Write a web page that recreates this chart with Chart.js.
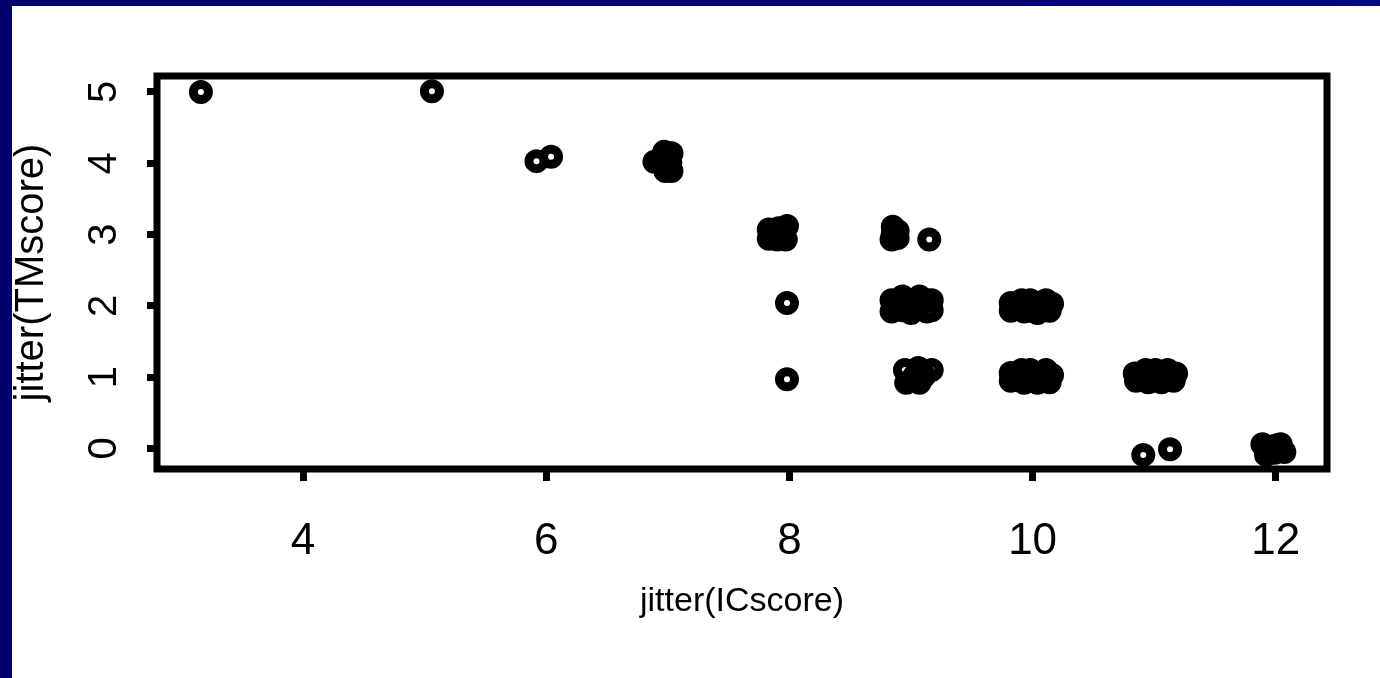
<!DOCTYPE html>
<html>
<head>
<meta charset="utf-8">
<title>jitter(TMscore) vs jitter(ICscore)</title>
<script src="https://cdn.jsdelivr.net/npm/chart.js@4.4.0/dist/chart.umd.min.js"></script>
<style>
    html, body {
        margin: 0;
        padding: 0;
        width: 1380px;
        height: 678px;
        overflow: hidden;
        background: linear-gradient(90deg, #00006a 0%, #000072 60%, #00087e 100%);
    }
    #frame {
        position: absolute;
        left: 12px;
        top: 6px;
        width: 1368px;
        height: 672px;
        background: #ffffff;
    }
</style>
</head>
<body>
<div id="frame">
    <canvas id="scatter"></canvas>
</div>
<script>
// Jittered scores (one entry per plotted circle)
const icScore = [
    3.16, 5.06,
    5.92, 6.04,
    6.89, 6.97, 7.03, 7.02, 6.98, 7.03, 6.95,
    7.98, 7.83, 7.83, 7.90, 7.97, 7.91, 7.90,
    8.85, 8.84, 8.89, 8.89, 8.85, 9.15,
    7.98,
    8.84, 8.84, 8.93, 8.93, 9.03, 9.07, 9.13, 9.17, 9.17, 9.00, 8.89, 9.08, 8.98, 9.13,
    9.82, 9.82, 9.91, 9.93, 10.02, 10.11, 10.16, 10.14, 10.04, 9.98, 9.88, 10.08, 9.98, 10.11,
    7.98,
    8.95, 8.96, 9.03, 9.07, 9.06, 9.17, 9.01, 9.11,
    9.82, 9.82, 9.91, 9.93, 10.02, 10.11, 10.16, 10.14, 10.04, 9.98, 9.88, 10.08, 9.98, 10.11,
    10.84, 10.85, 10.93, 10.95, 11.03, 11.11, 11.18, 11.16, 11.06, 11.01, 10.90, 11.10, 10.99, 11.13,
    10.91, 11.13,
    11.89, 12.04, 11.99, 12.07, 11.92, 12.00, 11.95
];
const tmScore = [
    5.00, 5.01,
    4.03, 4.09,
    4.02, 4.16, 4.14, 4.00, 3.89, 3.89, 4.02,
    3.12, 3.07, 2.94, 2.93, 2.93, 3.09, 3.01,
    3.11, 2.93, 2.95, 3.05, 3.01, 2.93,
    2.04,
    2.08, 1.92, 2.13, 1.94, 2.03, 2.13, 1.92, 2.08, 1.94, 1.90, 2.01, 2.03, 2.08, 2.08,
    2.04, 1.93, 2.08, 1.92, 2.00, 2.08, 2.03, 1.93, 1.90, 2.08, 2.00, 2.00, 1.93, 1.96,
    0.97,
    1.10, 0.92, 1.02, 0.92, 1.13, 1.10, 0.96, 1.02,
    1.06, 0.95, 1.10, 0.92, 1.02, 1.10, 1.03, 0.93, 0.92, 1.10, 1.02, 1.02, 0.95, 0.97,
    1.05, 0.95, 1.10, 0.93, 1.02, 1.10, 1.05, 0.95, 0.93, 1.10, 1.02, 1.02, 0.95, 0.97,
    -0.09, -0.01,
    0.06, 0.06, -0.06, -0.05, -0.09, 0.04, 0.01
];
const xTicks = [4, 6, 8, 10, 12];
const yTicks = [0, 1, 2, 3, 4, 5];
const xTitle = 'jitter(ICscore)';
const yTitle = 'jitter(TMscore)';

const points = icScore.map((x, i) => ({ x: x, y: tmScore[i] }));

// Box around the plotting region, like R's box()
const boxPlugin = {
    id: 'plotBox',
    afterDraw(chart) {
        const { ctx, chartArea } = chart;
        ctx.save();
        ctx.strokeStyle = '#000';
        ctx.lineWidth = 7;
        ctx.lineJoin = 'miter';
        ctx.strokeRect(chartArea.left, chartArea.top,
            chartArea.right - chartArea.left, chartArea.bottom - chartArea.top);
        ctx.restore();
    }
};

const fontFamily = '"Liberation Sans", Arial, Helvetica, sans-serif';

new Chart(document.getElementById('scatter'), {
    type: 'scatter',
    data: {
        datasets: [{
            data: points,
            pointStyle: 'circle',
            pointRadius: 7.5,
            pointHoverRadius: 7.5,
            pointBorderWidth: 9,
            pointHoverBorderWidth: 9,
            borderColor: '#000',
            backgroundColor: 'rgba(0,0,0,0)',
            clip: false
        }]
    },
    options: {
        responsive: true,
        maintainAspectRatio: false,
        animation: false,
        events: [],
        layout: {
            padding: { left: 0, top: 70, right: 53, bottom: 0 }
        },
        plugins: {
            legend: { display: false },
            tooltip: { enabled: false }
        },
        scales: {
            x: {
                type: 'linear',
                min: 2.799,
                max: 12.421,
                afterBuildTicks: scale => {
                    scale.ticks = xTicks.map(v => ({ value: v }));
                },
                afterFit: scale => {
                    scale.height = 209;
                },
                border: { display: false },
                grid: {
                    drawOnChartArea: false,
                    drawTicks: true,
                    tickLength: 12,
                    lineWidth: 7,
                    color: '#000'
                },
                ticks: {
                    color: '#000',
                    padding: 34,
                    maxRotation: 0,
                    font: { family: fontFamily, size: 44 }
                },
                title: {
                    display: true,
                    text: xTitle,
                    color: '#000',
                    font: { family: fontFamily, size: 34, lineHeight: 1 },
                    padding: { top: 0, bottom: 59 }
                }
            },
            y: {
                type: 'linear',
                min: -0.288,
                max: 5.224,
                afterBuildTicks: scale => {
                    scale.ticks = yTicks.map(v => ({ value: v }));
                },
                afterFit: scale => {
                    scale.width = 145;
                },
                border: { display: false },
                grid: {
                    drawOnChartArea: false,
                    drawTicks: true,
                    tickLength: 10,
                    lineWidth: 7,
                    color: '#000'
                },
                ticks: {
                    color: '#000',
                    padding: 31,
                    minRotation: 90,
                    maxRotation: 90,
                    crossAlign: 'center',
                    font: { family: fontFamily, size: 40 }
                },
                title: {
                    display: true,
                    text: yTitle,
                    color: '#000',
                    font: { family: fontFamily, size: 40, lineHeight: 1 },
                    padding: { top: 0, bottom: 0 }
                }
            }
        }
    },
    plugins: [boxPlugin]
});
</script>
</body>
</html>
